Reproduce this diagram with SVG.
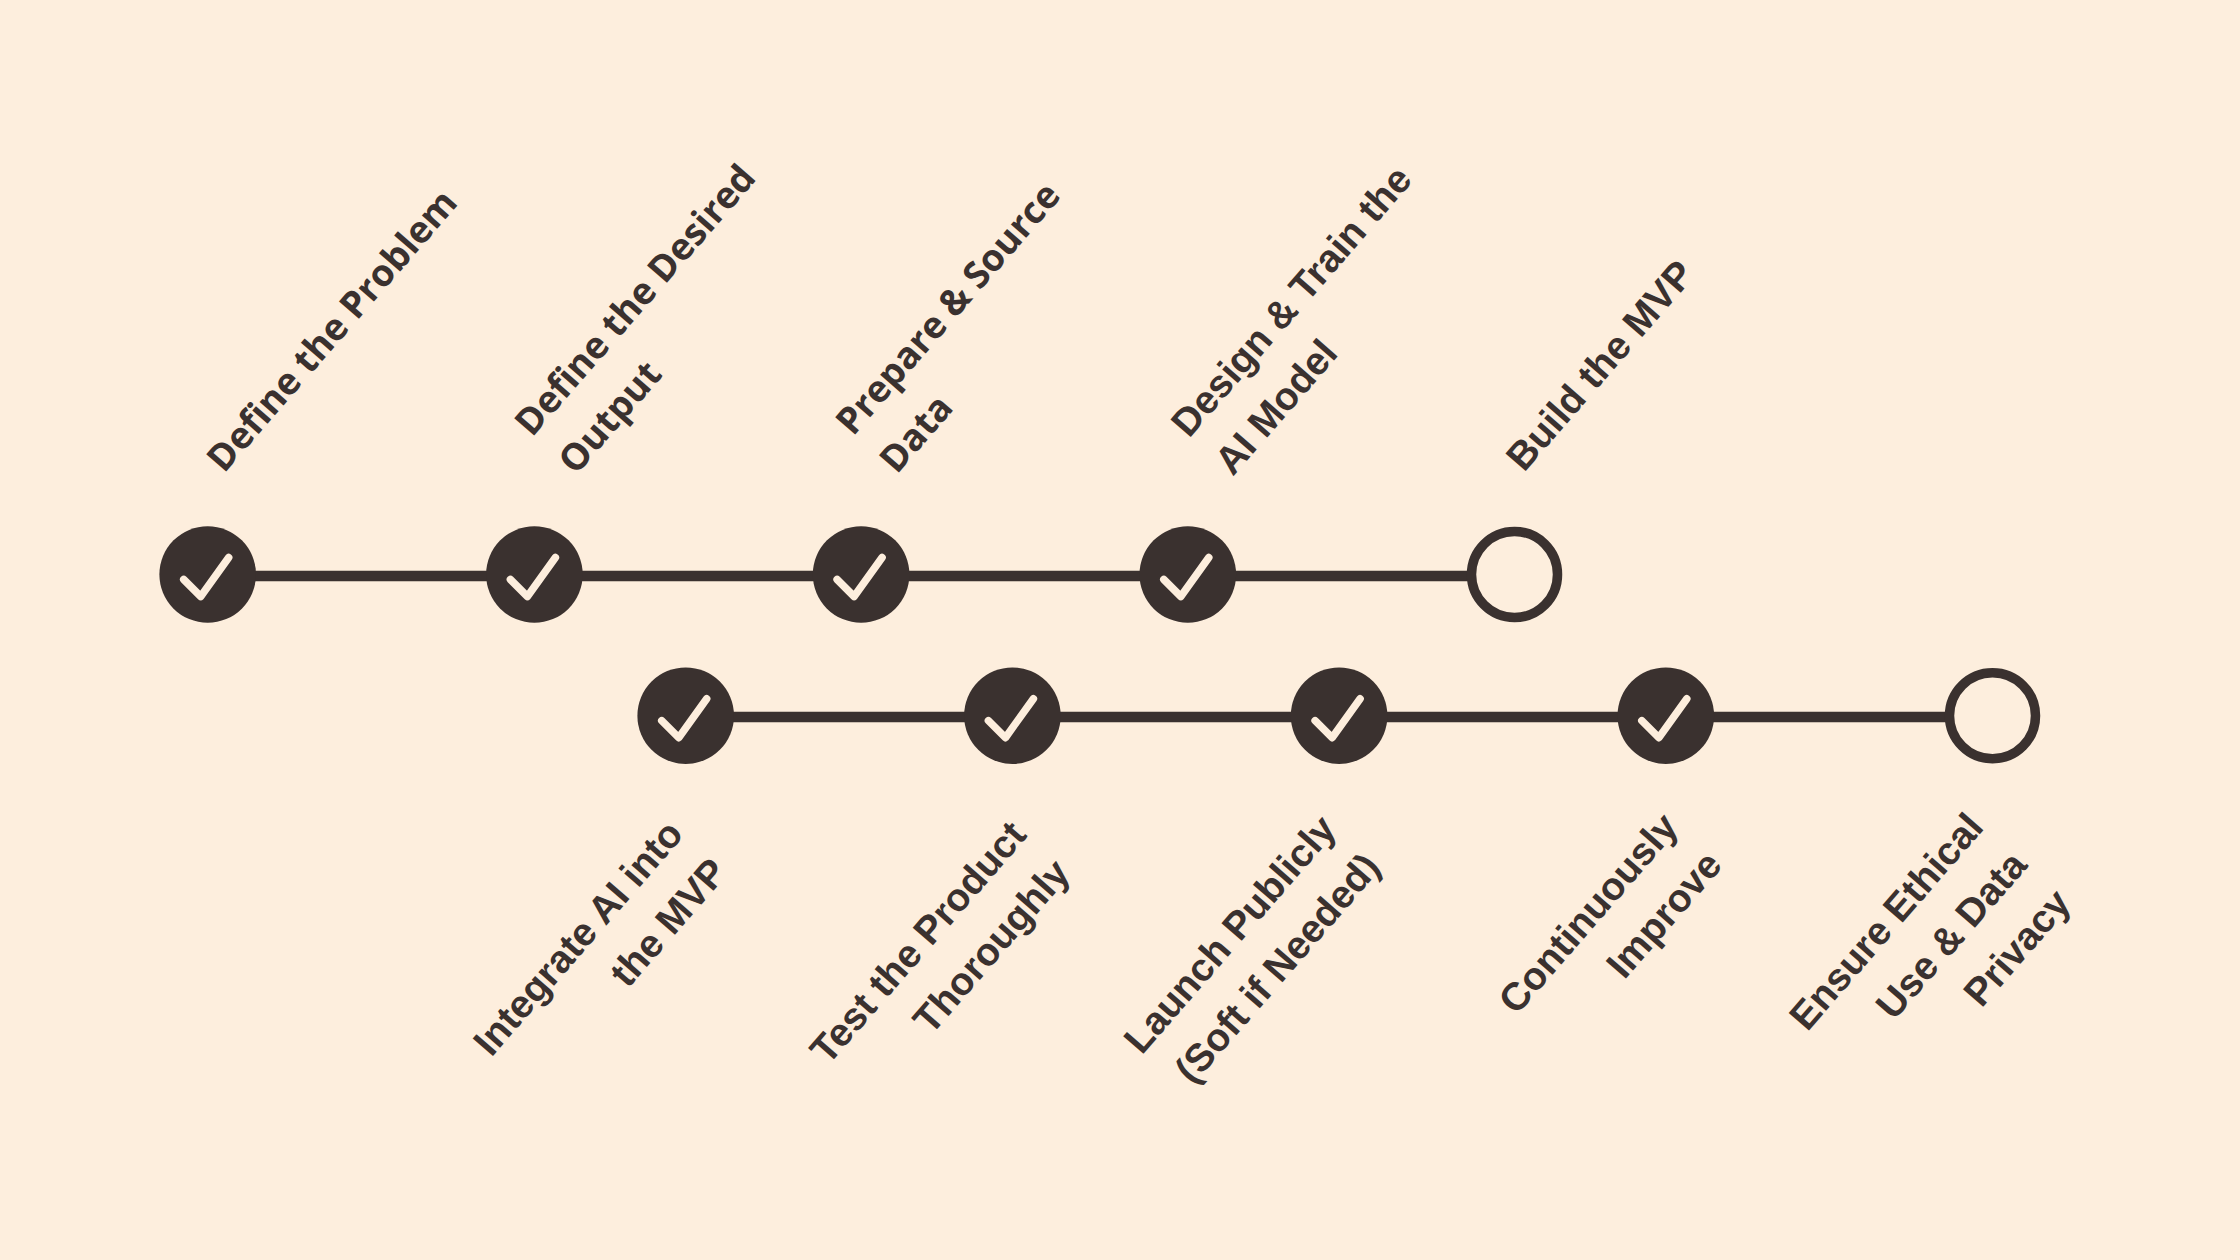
<svg xmlns="http://www.w3.org/2000/svg" width="2240" height="1260" viewBox="0 0 2240 1260">
<defs>
<style>
.bg{fill:#FDEEDD}
.dot{fill:#3A312F}
.ring{fill:#FDEEDD;stroke:#3A312F;stroke-width:9.5}
.chk{fill:none;stroke:#FDEEDD;stroke-width:7.5;stroke-linecap:round;stroke-linejoin:round}
.conn{stroke:#3A312F;stroke-width:10.5;fill:none}
.os{font-family:"Open Sans","Liberation Sans",sans-serif;font-weight:700;font-size:37px;fill:#3A312F}
.ls{font-family:"Liberation Sans",Arial,sans-serif;font-weight:700;font-size:39px;fill:#3A312F}
</style>
<path id="tick" d="M-24,5 L-7,22 L21,-17"/>
</defs>
<rect class="bg" x="0" y="0" width="2240" height="1260"/>
<g id="connectors">
<line class="conn" x1="208" y1="576" x2="1515" y2="576"/>
<line class="conn" x1="686" y1="717" x2="1993" y2="717"/>
</g>
<g id="n1">
<circle class="dot" cx="207.7" cy="574.5" r="48.3"/>
<use href="#tick" class="chk" transform="translate(207.7,574.5)"/>
<text class="os" transform="translate(224,474) rotate(-49)">Define the Problem</text>
</g>
<g id="n2">
<circle class="dot" cx="534.4" cy="574.5" r="48.3"/>
<use href="#tick" class="chk" transform="translate(534.4,574.5)"/>
<text class="os" transform="translate(532,438) rotate(-49)"><tspan x="0" y="0">Define the Desired</tspan><tspan x="0" y="58">Output</tspan></text>
</g>
<g id="n3">
<circle class="dot" cx="861.1" cy="574.5" r="48.3"/>
<use href="#tick" class="chk" transform="translate(861.1,574.5)"/>
<text class="os" transform="translate(853,437) rotate(-49)"><tspan x="0" y="0">Prepare &amp; Source</tspan><tspan x="0" y="58">Data</tspan></text>
</g>
<g id="n4">
<circle class="dot" cx="1187.8" cy="574.5" r="48.3"/>
<use href="#tick" class="chk" transform="translate(1187.8,574.5)"/>
<text class="ls" transform="translate(1189,439) rotate(-49)"><tspan x="0" y="0">Design &amp; Train the</tspan><tspan x="0" y="58">AI Model</tspan></text>
</g>
<g id="n5">
<circle class="ring" cx="1514.5" cy="574.5" r="43"/>
<text class="ls" transform="translate(1524,473) rotate(-49)">Build the MVP</text>
</g>
<g id="n6">
<circle class="dot" cx="685.7" cy="715.7" r="48.3"/>
<use href="#tick" class="chk" transform="translate(685.7,715.7)"/>
<text class="ls" text-anchor="end" transform="translate(685,835) rotate(-49)"><tspan x="0" y="0">Integrate AI into</tspan><tspan x="0" y="58">the MVP</tspan></text>
</g>
<g id="n7">
<circle class="dot" cx="1012.4" cy="715.7" r="48.3"/>
<use href="#tick" class="chk" transform="translate(1012.4,715.7)"/>
<text class="ls" text-anchor="end" transform="translate(1028,836) rotate(-49)"><tspan x="0" y="0">Test the Product</tspan><tspan x="0" y="58">Thoroughly</tspan></text>
</g>
<g id="n8">
<circle class="dot" cx="1339.1" cy="715.7" r="48.3"/>
<use href="#tick" class="chk" transform="translate(1339.1,715.7)"/>
<text class="ls" text-anchor="end" transform="translate(1338,830) rotate(-49)"><tspan x="0" y="0">Launch Publicly</tspan><tspan x="0" y="58">(Soft if Needed)</tspan></text>
</g>
<g id="n9">
<circle class="dot" cx="1665.8" cy="715.7" r="48.3"/>
<use href="#tick" class="chk" transform="translate(1665.8,715.7)"/>
<text class="ls" text-anchor="end" transform="translate(1680,828) rotate(-49)"><tspan x="0" y="0">Continuously</tspan><tspan x="0" y="58">Improve</tspan></text>
</g>
<g id="n10">
<circle class="ring" cx="1992.5" cy="715.7" r="43"/>
<text class="ls" text-anchor="end" transform="translate(1985,828) rotate(-49)"><tspan x="0" y="0">Ensure Ethical</tspan><tspan x="0" y="58">Use &amp; Data</tspan><tspan x="0" y="116">Privacy</tspan></text>
</g>
</svg>
